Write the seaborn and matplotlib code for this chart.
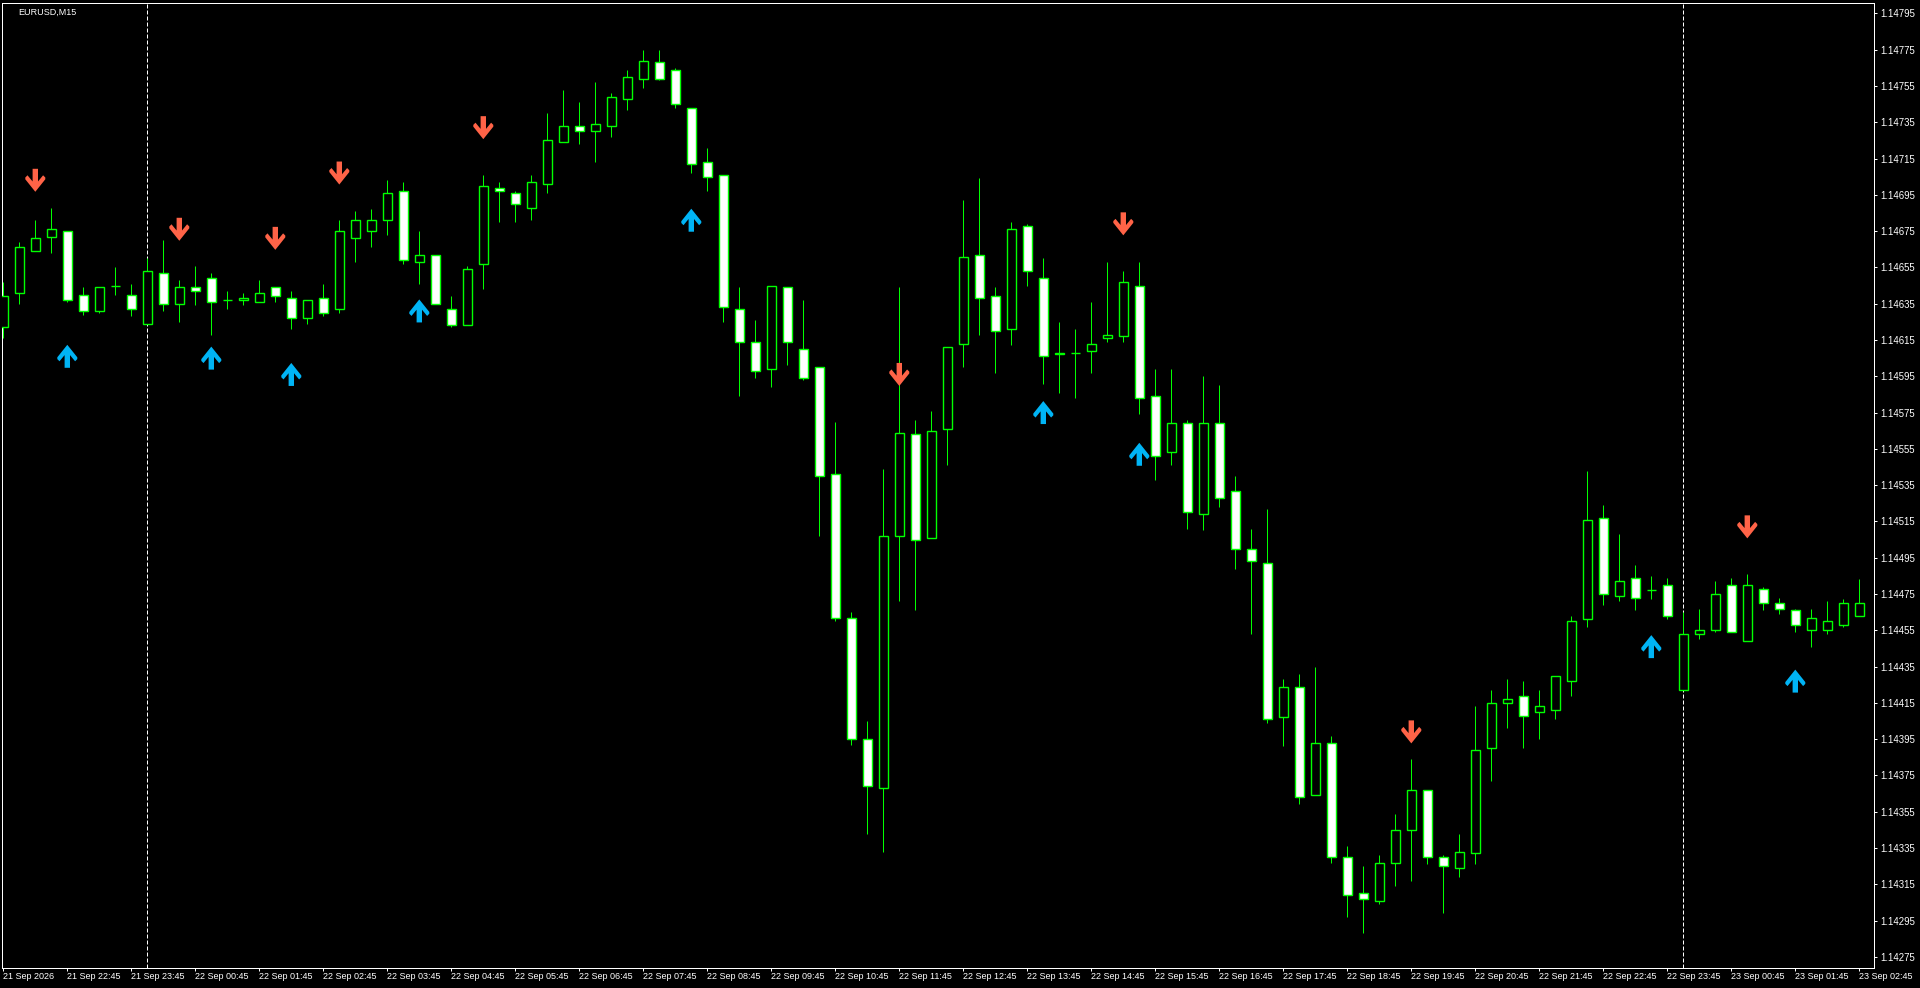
import numpy as np
import matplotlib
matplotlib.use("Agg")
import matplotlib.pyplot as plt
import seaborn as sns
from matplotlib.path import Path

# ---------------- data ----------------
symbol = "EURUSD,M15"

opens = [1.14622, 1.14641, 1.14664, 1.14672, 1.14675, 1.14640, 1.14631, 1.14645, 1.14640, 1.14624,
         1.14652, 1.14635, 1.14644, 1.14649, 1.14637, 1.14637, 1.14636, 1.14644, 1.14638, 1.14627,
         1.14638, 1.14632, 1.14671, 1.14675, 1.14681, 1.14697, 1.14658, 1.14662, 1.14632, 1.14623,
         1.14657, 1.14699, 1.14696, 1.14688, 1.14701, 1.14724, 1.14733, 1.14730, 1.14733, 1.14748,
         1.14759, 1.14768, 1.14764, 1.14743, 1.14713, 1.14706, 1.14632, 1.14614, 1.14599, 1.14644,
         1.14610, 1.14600, 1.14541, 1.14462, 1.14395, 1.14368, 1.14507, 1.14563, 1.14506, 1.14566,
         1.14613, 1.14662, 1.14639, 1.14621, 1.14678, 1.14649, 1.14608, 1.14608, 1.14609, 1.14616,
         1.14617, 1.14645, 1.14584, 1.14553, 1.14569, 1.14519, 1.14569, 1.14532, 1.14500, 1.14492,
         1.14407, 1.14424, 1.14364, 1.14393, 1.14330, 1.14310, 1.14306, 1.14327, 1.14345, 1.14367,
         1.14330, 1.14324, 1.14332, 1.14390, 1.14415, 1.14419, 1.14410, 1.14411, 1.14427, 1.14461,
         1.14517, 1.14474, 1.14484, 1.14477, 1.14480, 1.14422, 1.14453, 1.14455, 1.14480, 1.14449,
         1.14478, 1.14470, 1.14466, 1.14455, 1.14455, 1.14458, 1.14463]

highs = [1.14647, 1.14669, 1.14681, 1.14688, 1.14675, 1.14644, 1.14644, 1.14655, 1.14646, 1.14660,
         1.14670, 1.14648, 1.14656, 1.14652, 1.14642, 1.14641, 1.14648, 1.14644, 1.14642, 1.14637,
         1.14646, 1.14681, 1.14686, 1.14687, 1.14703, 1.14702, 1.14675, 1.14662, 1.14639, 1.14656,
         1.14706, 1.14702, 1.14697, 1.14706, 1.14740, 1.14753, 1.14746, 1.14757, 1.14751, 1.14764,
         1.14775, 1.14775, 1.14765, 1.14743, 1.14721, 1.14706, 1.14644, 1.14626, 1.14645, 1.14644,
         1.14637, 1.14600, 1.14570, 1.14465, 1.14405, 1.14544, 1.14644, 1.14571, 1.14576, 1.14611,
         1.14692, 1.14704, 1.14644, 1.14680, 1.14679, 1.14660, 1.14625, 1.14621, 1.14636, 1.14658,
         1.14653, 1.14658, 1.14599, 1.14599, 1.14571, 1.14595, 1.14590, 1.14540, 1.14511, 1.14522,
         1.14428, 1.14431, 1.14435, 1.14397, 1.14336, 1.14325, 1.14331, 1.14354, 1.14384, 1.14367,
         1.14331, 1.14343, 1.14413, 1.14422, 1.14428, 1.14427, 1.14422, 1.14430, 1.14463, 1.14543,
         1.14524, 1.14508, 1.14491, 1.14485, 1.14484, 1.14465, 1.14467, 1.14482, 1.14484, 1.14486,
         1.14479, 1.14473, 1.14467, 1.14467, 1.14471, 1.14472, 1.14483]

lows = [1.14616, 1.14635, 1.14664, 1.14663, 1.14636, 1.14629, 1.14630, 1.14640, 1.14628, 1.14624,
        1.14631, 1.14625, 1.14634, 1.14618, 1.14632, 1.14634, 1.14636, 1.14636, 1.14621, 1.14624,
        1.14628, 1.14630, 1.14658, 1.14666, 1.14673, 1.14657, 1.14646, 1.14635, 1.14622, 1.14623,
        1.14643, 1.14680, 1.14680, 1.14681, 1.14696, 1.14724, 1.14723, 1.14713, 1.14727, 1.14742,
        1.14754, 1.14758, 1.14743, 1.14707, 1.14697, 1.14625, 1.14584, 1.14594, 1.14589, 1.14601,
        1.14593, 1.14507, 1.14460, 1.14392, 1.14343, 1.14333, 1.14471, 1.14466, 1.14506, 1.14546,
        1.14600, 1.14618, 1.14597, 1.14612, 1.14645, 1.14591, 1.14586, 1.14583, 1.14597, 1.14614,
        1.14614, 1.14574, 1.14538, 1.14546, 1.14511, 1.14510, 1.14523, 1.14489, 1.14453, 1.14404,
        1.14391, 1.14359, 1.14364, 1.14327, 1.14297, 1.14288, 1.14304, 1.14314, 1.14317, 1.14326,
        1.14299, 1.14319, 1.14326, 1.14372, 1.14401, 1.14390, 1.14395, 1.14406, 1.14419, 1.14457,
        1.14469, 1.14471, 1.14466, 1.14472, 1.14461, 1.14422, 1.14450, 1.14454, 1.14454, 1.14449,
        1.14466, 1.14464, 1.14454, 1.14446, 1.14453, 1.14457, 1.14463]

closes = [1.14639, 1.14666, 1.14671, 1.14676, 1.14637, 1.14631, 1.14644, 1.14645, 1.14632, 1.14653,
          1.14635, 1.14644, 1.14642, 1.14636, 1.14637, 1.14638, 1.14641, 1.14639, 1.14627, 1.14637,
          1.14630, 1.14675, 1.14681, 1.14681, 1.14696, 1.14659, 1.14662, 1.14635, 1.14623, 1.14654,
          1.14700, 1.14697, 1.14690, 1.14702, 1.14725, 1.14733, 1.14730, 1.14734, 1.14749, 1.14760,
          1.14769, 1.14759, 1.14745, 1.14712, 1.14705, 1.14633, 1.14614, 1.14598, 1.14645, 1.14614,
          1.14594, 1.14540, 1.14462, 1.14395, 1.14369, 1.14507, 1.14564, 1.14505, 1.14565, 1.14611,
          1.14661, 1.14638, 1.14620, 1.14676, 1.14653, 1.14606, 1.14607, 1.14608, 1.14613, 1.14618,
          1.14647, 1.14583, 1.14551, 1.14569, 1.14520, 1.14569, 1.14528, 1.14500, 1.14493, 1.14406,
          1.14424, 1.14363, 1.14393, 1.14330, 1.14309, 1.14307, 1.14327, 1.14345, 1.14367, 1.14330,
          1.14325, 1.14333, 1.14389, 1.14415, 1.14417, 1.14408, 1.14413, 1.14430, 1.14460, 1.14516,
          1.14475, 1.14482, 1.14473, 1.14477, 1.14463, 1.14453, 1.14455, 1.14475, 1.14454, 1.14480,
          1.14470, 1.14467, 1.14458, 1.14462, 1.14460, 1.14470, 1.14470]

time_labels = ["21 Sep 2026", "21 Sep 22:45", "21 Sep 23:45",
               "22 Sep 00:45", "22 Sep 01:45", "22 Sep 02:45", "22 Sep 03:45", "22 Sep 04:45",
               "22 Sep 05:45", "22 Sep 06:45", "22 Sep 07:45", "22 Sep 08:45", "22 Sep 09:45",
               "22 Sep 10:45", "22 Sep 11:45", "22 Sep 12:45", "22 Sep 13:45", "22 Sep 14:45",
               "22 Sep 15:45", "22 Sep 16:45", "22 Sep 17:45", "22 Sep 18:45", "22 Sep 19:45",
               "22 Sep 20:45", "22 Sep 21:45", "22 Sep 22:45", "22 Sep 23:45",
               "23 Sep 00:45", "23 Sep 01:45", "23 Sep 02:45"]
label_bars = list(range(0, 117, 4))
day_break_bars = [9, 105]

sell_bars = [2, 11, 17, 21, 30, 56, 70, 88, 109]
sell_levels = [1.14703, 1.14676, 1.14671, 1.14707, 1.14732, 1.14596, 1.14679, 1.14399, 1.14512]
buy_bars = [4, 13, 18, 26, 43, 65, 71, 103, 112]
buy_levels = [1.14606, 1.14605, 1.14596, 1.14631, 1.14681, 1.14575, 1.14552, 1.14446, 1.14427]

price_ticks = [1.14275, 1.14295, 1.14315, 1.14335, 1.14355, 1.14375, 1.14395, 1.14415, 1.14435,
               1.14455, 1.14475, 1.14495, 1.14515, 1.14535, 1.14555, 1.14575, 1.14595, 1.14615,
               1.14635, 1.14655, 1.14675, 1.14695, 1.14715, 1.14735, 1.14755, 1.14775, 1.14795]

# ---------------- style ----------------
sns.set_theme(style="dark", rc={"axes.facecolor": "black", "figure.facecolor": "black"})
plt.rcParams["font.family"] = ["Liberation Sans", "DejaVu Sans"]

GREEN = "#00FF00"
PX = 0.72  # one pixel in points at dpi 100
FS = 6.5

fig = plt.figure(figsize=(19.2, 9.88), dpi=100)
ax = fig.add_axes([2 / 1920, 1 - 968 / 988, 1872 / 1920, 965 / 988])
ax.set_facecolor("black")

x = np.arange(len(opens))
o = np.array(opens)
h = np.array(highs)
l = np.array(lows)
c = np.array(closes)

# day separators
for b in day_break_bars:
    ax.axvline(b, color="white", lw=PX, ls=(0, (4, 2)), zorder=1)

# wicks
ax.vlines(x, l, h, color=GREEN, lw=PX, zorder=2)
# bodies
bull = c >= o
fill = np.where(bull, "black", "white")
ax.bar(x, np.abs(c - o), bottom=np.minimum(o, c), width=0.6, color=fill,
       edgecolor=GREEN, linewidth=1.0, zorder=3)

# signal arrows (heavy barb arrows)
def arrow_path(up):
    v = [(-2.7, 11.5), (2.7, 11.5), (2.7, -1.2), (7.8, 5.0), (10, 2.8), (10, 1.0),
         (0, -11.5), (-10, 1.0), (-10, 2.8), (-7.8, 5.0), (-2.7, -1.2), (-2.7, 11.5)]
    if up:
        v = [(a, -b) for a, b in v]
    codes = [Path.MOVETO] + [Path.LINETO] * (len(v) - 2) + [Path.CLOSEPOLY]
    return Path(v, codes)

msize = (23 * PX) ** 2
sns.scatterplot(x=sell_bars, y=sell_levels, marker=arrow_path(False), s=msize,
                color="#FF6347", linewidth=0, edgecolor="none", ax=ax, zorder=4)
sns.scatterplot(x=buy_bars, y=buy_levels, marker=arrow_path(True), s=msize,
                color="#00B4F5", linewidth=0, edgecolor="none", ax=ax, zorder=4)

# axes limits (16 px per bar)
ax.set_xlim(-0.08125, 116.91875)
ax.set_ylim(1.1426888, 1.1480071)

# y axis on the right
ax.yaxis.tick_right()
ax.set_yticks(price_ticks)
ax.set_yticklabels([f"{p:.5f}" for p in price_ticks])
ax.tick_params(axis="y", which="both", direction="out", length=3 * PX, width=PX,
               colors="white", labelsize=6.9, pad=2.5, right=True, left=False)

ax.set_xticks(label_bars)
ax.set_xticklabels(time_labels, ha="left")
ax.tick_params(axis="x", direction="out", length=3 * PX, width=PX,
               colors="white", labelsize=FS, pad=1.0, bottom=True)

ax.grid(False)
ax.set_xlabel("")
ax.set_ylabel("")
for sp in ax.spines.values():
    sp.set_visible(True)
    sp.set_color("white")
    sp.set_linewidth(PX)

fig.text(18 / 1920, 1 - 14.5 / 988, symbol, color="white", fontsize=FS,
         ha="left", va="baseline")

fig.savefig("out.png", dpi=100, facecolor="black")
